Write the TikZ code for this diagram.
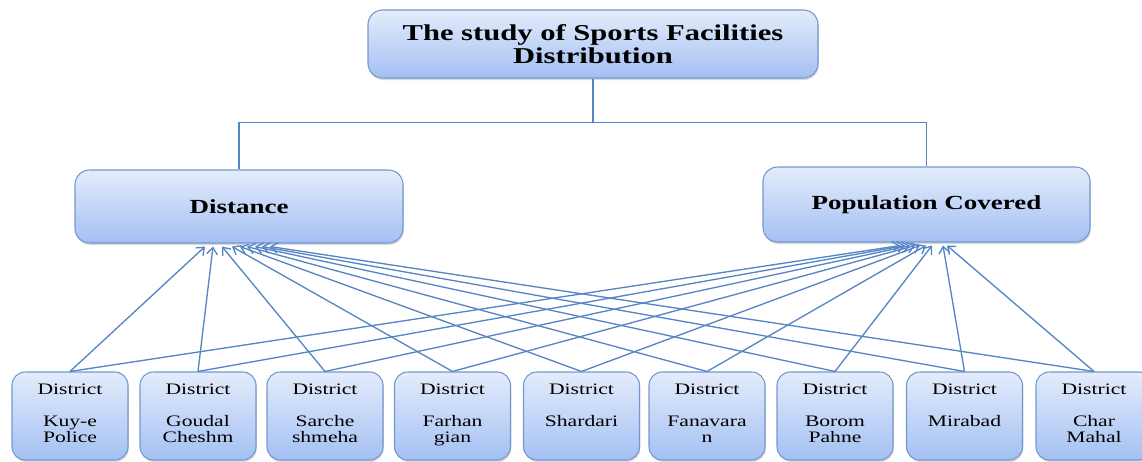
\documentclass[tikz,border=0pt]{standalone}
\usepackage{fontspec}
\setmainfont{Liberation Serif}[FakeStretch=1.35]
\usetikzlibrary{arrows.meta,calc,shadows}
\definecolor{boxtop}{HTML}{E4ECFB}
\definecolor{boxbot}{HTML}{A3C0F3}
\definecolor{boxline}{HTML}{7398D0}
\definecolor{linkblue}{HTML}{5585C5}
\begin{document}
\begin{tikzpicture}[x=0.75pt,y=-0.75pt]
      \tikzstyle{block}=[draw=boxline,line width=0.8pt,top color=boxtop,bottom color=boxbot,
        drop shadow={shadow xshift=0.6pt,shadow yshift=-1.5pt,opacity=0.3}]
      \tikzstyle{head}=[block,rounded corners=11pt,align=center,font=\bfseries]
      \tikzstyle{district}=[block,rounded corners=10pt,minimum width=87pt,minimum height=66pt,
        inner sep=0pt,align=center,font=\fontsize{12}{12}\selectfont]
      \tikzstyle{tree}=[draw=linkblue,line width=1.1pt]
      \tikzstyle{edge}=[draw=linkblue,line width=1pt,-{Straight Barb[length=5pt,width=8pt]}]
      \useasboundingbox (0,0) rectangle (1142,461);
      % top of the tree
      \node[head,minimum width=337.5pt,minimum height=51pt,font=\fontsize{17}{16.8}\selectfont\bfseries] (study) at (593,44) {The study of Sports Facilities\\Distribution};
      \node[head,minimum width=246pt,minimum height=54.75pt,font=\fontsize{15}{15}\selectfont\bfseries] (dist) at (239,206.5) {Distance};
      \node[head,minimum width=245.25pt,minimum height=56.25pt,font=\fontsize{15}{15}\selectfont\bfseries] (popc) at (926.5,204.5) {Population Covered};
      \path[tree] (study.south) -- ++(0,44) -| (dist.north);
      \path[tree] (study.south) -- ++(0,44) -| (popc.north);
      % districts
      \node[district] (kuye) at (70,416) {District\\[12pt]Kuy-e\\Police\strut};
      \node[district] (goudal) at (198,416) {District\\[12pt]Goudal\\Cheshm\strut};
      \node[district] (sarche) at (325,416) {District\\[12pt]Sarche\\shmeha\strut};
      \node[district] (farhan) at (452.5,416) {District\\[12pt]Farhan\\gian\strut};
      \node[district] (shardari) at (581.5,416) {District\\[12pt]Shardari\\\strut};
      \node[district] (fanavaran) at (707,416) {District\\[12pt]Fanavara\\n\strut};
      \node[district] (borom) at (835,416) {District\\[12pt]Borom\\Pahne\strut};
      \node[district] (mirabad) at (964.5,416) {District\\[12pt]Mirabad\\\strut};
      \node[district] (charmahal) at (1094,416) {District\\[12pt]Char\\Mahal\strut};
      % links to distance
      \path[edge] (kuye.north) -- ($(dist.south)+(-34,3)$);
      \path[edge] (goudal.north) -- ($(dist.south)+(-26,3)$);
      \path[edge] (sarche.north) -- ($(dist.south)+(-17,3)$);
      \path[edge] (farhan.north) -- ($(dist.south)+(-7,3)$);
      \path[edge] (shardari.north) -- ($(dist.south)+(1,3)$);
      \path[edge] (fanavaran.north) -- ($(dist.south)+(8,3)$);
      \path[edge] (borom.north) -- ($(dist.south)+(16,3)$);
      \path[edge] (mirabad.north) -- ($(dist.south)+(23,3)$);
      \path[edge] (charmahal.north) -- ($(dist.south)+(31,3)$);
      % links to population covered
      \path[edge] (kuye.north) -- ($(popc.south)+(-26.5,3)$);
      \path[edge] (goudal.north) -- ($(popc.south)+(-21.5,3)$);
      \path[edge] (sarche.north) -- ($(popc.south)+(-16.5,3)$);
      \path[edge] (farhan.north) -- ($(popc.south)+(-11.5,3)$);
      \path[edge] (shardari.north) -- ($(popc.south)+(-6.5,3)$);
      \path[edge] (fanavaran.north) -- ($(popc.south)+(-0.5,3)$);
      \path[edge] (borom.north) -- ($(popc.south)+(5.5,3)$);
      \path[edge] (mirabad.north) -- ($(popc.south)+(16.5,3)$);
      \path[edge] (charmahal.north) -- ($(popc.south)+(20.5,3)$);
\end{tikzpicture}
\end{document}
